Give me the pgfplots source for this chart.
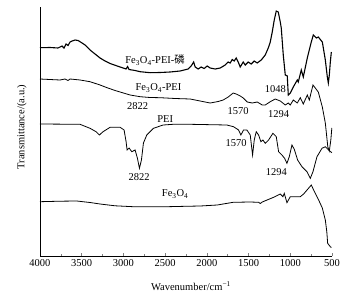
\documentclass[border=0pt]{standalone}
\usepackage{pgfplots}
\pgfplotsset{compat=1.18}
\usepackage{fontspec}
\setmainfont{Liberation Serif}
\newfontfamily\cjk{Noto Sans CJK SC}
\begin{document}
\begin{tikzpicture}[font=\fontsize{10.5}{12}\selectfont]
\useasboundingbox (-40pt,-42pt) rectangle (324pt,256pt);
\begin{axis}[
  scale only axis, width=292pt, height=249pt,
  at={(0,0)}, anchor=south west,
  xmin=500, xmax=4000, ymin=0, ymax=249,
  x dir=reverse,
  axis x line*=bottom, axis y line*=left,
  axis line style={line width=0.75pt},
  xtick={500,1000,...,4000}, minor x tick num=1,
  ytick=\empty,
  tick align=inside,
  major tick length=3pt, minor tick length=2.5pt,
  tick style={line width=0.6pt},
  /pgf/number format/assume math mode=true,
  /pgf/number format/1000 sep={},
  xlabel={Wavenumber/cm\textsuperscript{−1}},
  ylabel={Transmittance/(a.u.)},
  xlabel style={at={(axis description cs:0.517,0)},anchor=center,yshift=-30pt},
  ylabel style={at={(axis description cs:-0.062,0.518)},anchor=center},
  clip=false,
]
% Fe3O4-PEI-phosphorus
\addplot[black, line width=1.1pt] coordinates {
(4000,208.3)(3880,208.5)(3784,208)(3736,210)(3712,208)(3688,212)(3664,210.5)(3640,214)(3616,215)(3580,216)(3544,215.5)(3520,214.3)(3460,211)(3400,206)(3340,202)(3280,198)(3220,195)(3160,192.5)(3040,189)(2968,187)(2950,189.5)(2932,186.5)(2860,185.5)(2800,184.3)(2680,183.3)(2560,183.5)(2440,184)(2320,185)(2224,187)(2188,190)(2158,194)(2140,189)(2104,187)(2068,189)(2032,187.5)(1996,190)(1960,188)(1900,187)(1840,188)(1780,191)(1744,194)(1720,193)(1696,196.5)(1672,195)(1648,198)(1624,194)(1600,189)(1564,194)(1540,191)(1504,194)(1468,192)(1432,195)(1396,193)(1348,196)(1300,201)(1264,208)(1240,214)(1216,224)(1192,236)(1168,245)(1144,244)(1120,234)(1108,228)(1084,201)(1060,181)(1036,180)(1024,161)(1000,163)(964,169)(916,176)(904,174)(868,186)(844,179)(796,198)(772,206)(748,214)(724,221)(688,218)(664,219)(616,214)(580,196)(556,179)(544,173)(532,181)(520,194)(508,204)
};
% Fe3O4-PEI
\addplot[black, line width=0.8pt] coordinates {
(4000,177)(3880,176.5)(3760,176)(3700,177)(3664,175.5)(3640,177)(3520,176)(3400,174.3)(3280,171)(3196,168.3)(3100,165.5)(3040,164)(2920,161)(2800,159.3)(2680,158.5)(2560,158.3)(2380,157.5)(2200,157)(2080,155)(1960,153)(1864,154.5)(1804,156)(1744,159)(1684,163)(1648,162)(1600,160)(1564,158)(1516,154)(1456,153)(1396,154)(1336,151)(1300,151)(1240,154.3)(1180,157)(1120,155)(1060,151)(1024,153)(1000,151)(964,156)(916,153)(880,158.3)(844,152)(796,161)(772,156)(728,171)(700,168)(664,164)(616,149)(580,133)(550,109)(532,105)(514,116)(502,128)
};
% PEI
\addplot[black, line width=0.8pt] coordinates {
(4000,132)(3520,131.7)(3400,127.7)(3328,124.3)(3288,121)(3244,124.3)(3160,128.7)(3040,128.7)(2992,126)(2968,114.3)(2956,106)(2932,108)(2900,104.3)(2860,106)(2832,97.7)(2808,87.7)(2784,96)(2760,113)(2720,121)(2640,127.7)(2524,131)(2404,131.7)(2200,131.7)(1760,131)(1680,129.3)(1620,126)(1592,121)(1560,126)(1520,126)(1480,121)(1452,101)(1432,116)(1408,124.3)(1380,121)(1352,114.3)(1328,116)(1300,112.7)(1260,116)(1208,122.7)(1168,119.3)(1140,104.3)(1100,101)(1068,97.7)(1040,92.7)(1012,99.3)(980,111)(952,106.7)(912,96)(860,89.3)(800,84.3)(760,77.7)(728,84.3)(680,99.3)(620,107.7)(580,109.3)(540,106)(502,103.3)
};
% Fe3O4
\addplot[black, line width=0.8pt] coordinates {
(4000,54.3)(3760,54.8)(3560,55)(3400,53.5)(3280,52)(3100,50.2)(2884,49.3)(2680,49.3)(2476,49.3)(2260,49.7)(2080,50)(1876,51)(1684,53.7)(1480,54)(1380,53.7)(1360,52.5)(1336,54)(1200,58.7)(1120,62)(1088,59.3)(1072,62.7)(1040,53.3)(1000,59.3)(880,59.3)(840,62)(748,71)(720,66)(660,56)(616,48)(580,36)(562,24)(552,12.7)(520,9.3)(508,8.5)
};
\node at (axis cs:2620,196) {Fe\textsubscript{3}O\textsubscript{4}-PEI-{\cjk 磷}};
\node at (axis cs:2580,168) {Fe\textsubscript{3}O\textsubscript{4}-PEI};
\node at (axis cs:2830,150) {2822};
\node at (axis cs:1624,145) {1570};
\node at (axis cs:1180,167) {1048};
\node at (axis cs:1140,142) {1294};
\node at (axis cs:2500,137) {PEI};
\node at (axis cs:1648,113) {1570};
\node at (axis cs:2812,78.5) {2822};
\node at (axis cs:1168,83.5) {1294};
\node at (axis cs:2380,62) {Fe\textsubscript{3}O\textsubscript{4}};
\end{axis}
\end{tikzpicture}
\end{document}
